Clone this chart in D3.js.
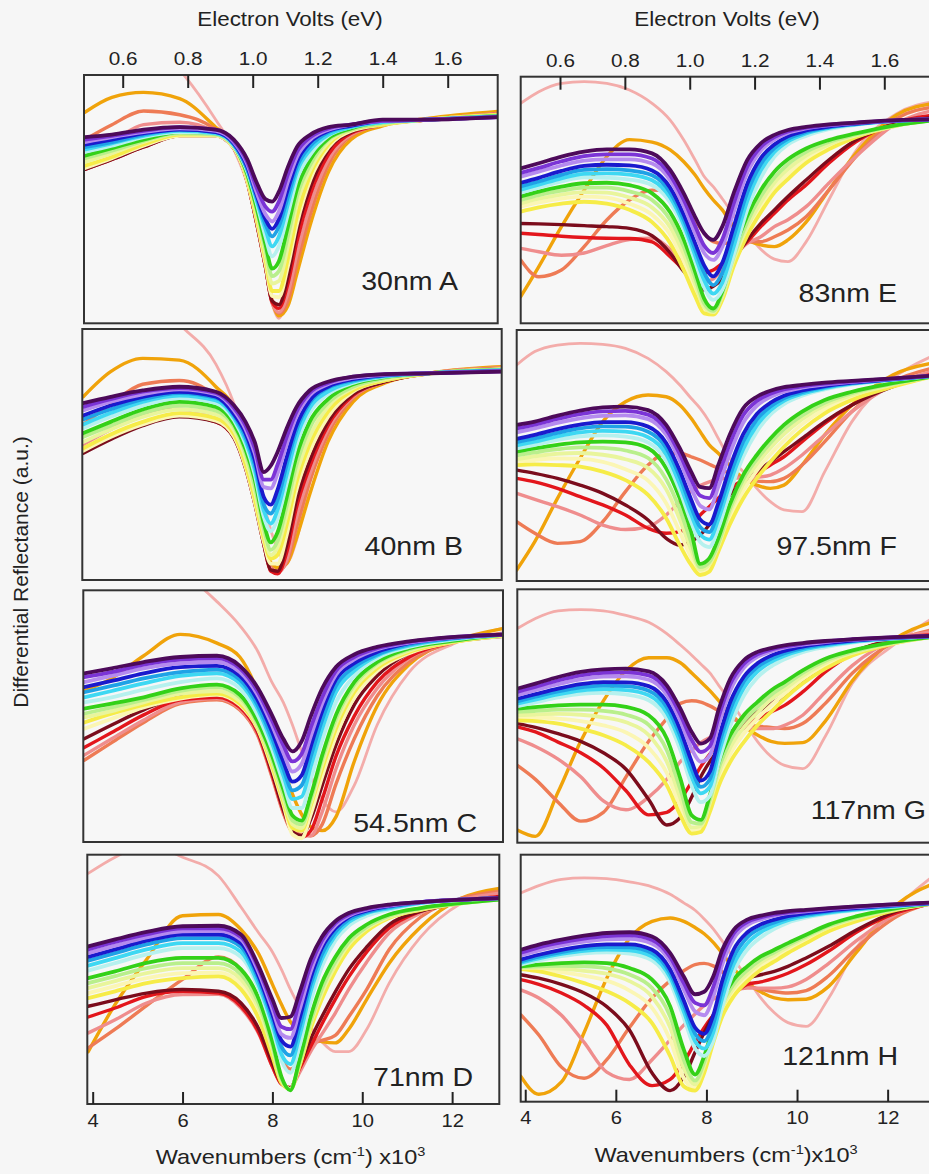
<!DOCTYPE html>
<html>
<head>
<meta charset="utf-8">
<script src="https://cdn.jsdelivr.net/npm/d3@7"></script>
<style>
  body { margin: 0; background: #f6f6f6; }
  svg { display: block; }
  text { font-family: "Liberation Sans", Arial, sans-serif; fill: #222; }
</style>
</head>
<body>
<div id="chart"></div>
<script>
// Series colours, in drawing order (warm curves first, then the bundle from yellow to dark purple)
const seriesColors = ["#f3acaa", "#f0a30a", "#ee7b55", "#ef8d8d", "#e3161c", "#7b0c1c",
  "#fbf6b4", "#f6ec48", "#e9f59c", "#b9ef8c", "#33d118", "#b6f1ee",
  "#3ed8f2", "#1fa2e6", "#1a1acd", "#b58bef", "#7b34d6", "#4d0a5a"];

// Wavenumber grids (x10^3 cm^-1)
const wnA = [3.9, 4.5, 5.2, 6.0, 6.8, 7.2, 7.5, 7.7, 7.9, 8.05, 8.2, 8.4, 8.6, 8.9, 9.3, 9.8, 10.5, 11.5, 13.05];
const wnB = [3.9, 4.5, 5.2, 6.0, 6.8, 7.2, 7.45, 7.65, 7.85, 8.0, 8.15, 8.35, 8.55, 8.85, 9.25, 9.8, 10.5, 11.5, 13.05];
const wnC = [3.9, 4.5, 5.2, 6.0, 6.8, 7.3, 7.7, 8.0, 8.25, 8.45, 8.65, 8.85, 9.1, 9.4, 9.8, 10.3, 11.0, 12.0, 13.05];
const wnD = [3.9, 4.5, 5.2, 6.0, 6.8, 7.3, 7.7, 8.0, 8.2, 8.4, 8.6, 8.85, 9.1, 9.4, 9.7, 10.1, 10.6, 11.3, 12.2, 13.05];
const wnRight = [3.9, 4.3, 4.8, 5.3, 5.8, 6.3, 6.8, 7.2, 7.5, 7.75, 7.95, 8.15, 8.35, 8.6, 8.9, 9.2, 9.5, 9.8, 10.2, 10.7, 11.3, 12.2, 13.05];

// Differential reflectance (a.u.), one row per series colour
const reflA = [
  [130, 125, 115, 102, 82, 70, 56, 40, 22, 8, 2, 12, 26, 46, 63, 74, 80, 82.5, 84.7],
  [85, 91, 93, 90.5, 79, 72, 57, 41, 23, 9, 3, 7, 20, 40, 61, 74, 79.5, 82.5, 85.3],
  [74, 80, 85.5, 84, 78, 71, 57, 41, 23, 9, 4, 9, 24, 44, 64, 75.5, 80, 82, 84.5],
  [66, 73, 80, 81, 77, 71, 57, 41, 23, 8, 4.5, 12, 28, 48, 66, 76, 80, 82, 84.5],
  [62, 66, 71, 75.5, 75.5, 70.5, 57, 41, 23, 8.5, 6, 16, 33, 52, 68, 76.5, 80, 82, 84.2],
  [62, 66, 71, 75.5, 75.5, 70.5, 57, 41, 23, 9, 7.5, 19, 37, 55, 70, 77, 80, 82, 84],
  [62.5, 66.5, 71.5, 75.5, 75.5, 70.5, 57, 42, 24, 11, 10.5, 23, 40, 58, 71, 77.5, 80, 82, 84],
  [63.5, 67, 72, 76, 76, 71, 58, 43, 26, 13, 13, 26, 43, 60, 72, 78, 80, 82, 84],
  [65, 68.5, 73, 76.5, 76, 71, 59, 45, 28, 16, 17, 31, 48, 62, 73, 78, 80.5, 82, 83.6],
  [66.5, 69.5, 73.5, 76.5, 76, 71.5, 59.5, 46, 30, 19, 21, 35, 51, 64, 74, 78, 80.5, 82, 83.5],
  [67.5, 70.5, 74, 77, 76.5, 71.5, 60, 47, 32, 22, 25, 39, 54, 66, 74.5, 78.5, 81, 82, 83.5],
  [69, 71.5, 75, 77, 76.5, 71.5, 61, 49, 35, 27, 31, 44, 58, 68, 75.5, 79, 81, 82, 83.3],
  [70, 72.5, 75.5, 77.5, 76.5, 72, 62, 50, 38, 31, 35, 48, 61, 70, 76, 79, 81, 82, 83.2],
  [71, 73, 76, 78, 77, 72, 62, 51, 40, 35, 39, 51, 63, 71.5, 77, 79.5, 81.5, 82, 83.2],
  [72, 74, 76.5, 78, 77, 72.5, 63, 52, 42, 38, 42, 54, 65, 73, 77.5, 79.5, 81.5, 82, 83],
  [73, 75, 77, 78.5, 77.5, 73, 64, 53, 44, 41, 45, 57, 67, 74, 78, 80, 81.5, 82, 83],
  [74, 75.5, 77.5, 79, 78, 73.5, 65, 55, 47, 45, 49, 60, 69, 75, 78.5, 80, 81.5, 82, 83],
  [75, 76, 78, 79, 78, 74, 66, 57, 50, 49, 53, 63, 71, 76, 79, 80, 82, 82, 83]
];
const reflB = [
  [140, 130, 118, 102, 86, 70, 55, 42, 30, 20, 12, 7, 15, 39, 59, 72, 79, 82.5, 85],
  [73, 83, 88.3, 87.6, 77, 68, 50, 34, 17, 7, 5, 6.5, 16, 34, 55, 71, 78.5, 82.5, 85],
  [62, 70, 78, 79.5, 73, 60, 46, 31.5, 15, 5, 3.5, 7, 20, 39, 58, 72.5, 79, 82.5, 84.5],
  [54, 60, 66, 68, 64, 57, 45, 31, 14.5, 4.5, 3, 8, 24, 42, 60, 73, 79, 82.5, 84.5],
  [51, 56.5, 62, 65.5, 63, 56.5, 44.5, 30.5, 14, 3.5, 2.5, 11, 28, 45, 61.5, 73.5, 79, 82.3, 84.2],
  [50.5, 56, 61.5, 65, 63, 56.5, 44.5, 30.5, 14, 4, 3.5, 14, 31, 47.5, 63, 74, 79, 82.3, 84.1],
  [51.5, 57, 62, 65.5, 63.5, 57, 45, 31, 15, 6.5, 6.5, 18, 35, 51, 65, 75, 79.5, 82.3, 84],
  [52.5, 58, 63, 66.5, 64.5, 58, 46, 32.5, 16.5, 8.5, 10, 22, 38, 54, 67, 75.5, 79.5, 82.3, 84],
  [55, 60, 65, 68, 66, 59.5, 48.5, 35, 18.5, 10, 13, 26, 41.5, 57, 69, 76.5, 80, 82.3, 83.9],
  [57, 61.5, 66.5, 69.5, 67.5, 61, 50.5, 37.5, 20.5, 12, 15.5, 29.5, 45, 60.5, 70.5, 77, 80.4, 82.4, 83.8],
  [58.5, 63, 68, 71, 69, 62, 52, 40, 22.5, 15, 19, 33, 48.5, 63, 72, 78, 80.8, 82.4, 83.7],
  [60.5, 65, 69.5, 72.5, 70.5, 63.5, 54, 42, 25, 19.5, 24.5, 38.5, 53, 66.5, 74, 78.5, 81, 82.4, 83.6],
  [62, 66.5, 71, 73.5, 71.5, 64.5, 55.5, 44, 27.5, 22.5, 28, 42, 56, 68.5, 75, 79, 81.2, 82.4, 83.5],
  [64, 68, 72, 74.5, 72.5, 65.5, 57, 46, 30, 26.5, 32, 46, 59, 70.5, 76.5, 79.5, 81.4, 82.4, 83.4],
  [65.5, 69.5, 73, 75, 73, 66, 58.5, 48, 33, 30, 36, 49, 61, 71.5, 77, 80, 81.6, 82.4, 83.3],
  [67.5, 71, 74, 76, 74, 67.5, 60, 50.5, 37, 36.5, 42.5, 54, 64.5, 73.5, 78, 80.5, 81.8, 82.4, 83.2],
  [69, 72, 75, 76.5, 74.5, 68.5, 61.5, 52.5, 40, 40, 46, 57, 66.5, 74.5, 78.5, 81, 82, 82.4, 83.1],
  [70.5, 73, 75.5, 77, 75, 69.5, 63, 55, 43, 45.5, 51, 60.5, 68.5, 75.5, 79, 81, 82, 82.3, 83]
];
const reflC = [
  [135, 128, 118, 108, 95.5, 86, 75.5, 63.5, 55.5, 46.5, 36, 26.5, 17, 12, 22.5, 46.5, 67.5, 79, 85],
  [60, 65, 74, 82.5, 79, 73.5, 59.5, 44, 30, 19, 11, 6, 4.5, 10, 32, 54, 70.5, 80, 84.8],
  [32.5, 39.5, 47.5, 55, 56.5, 52.5, 42, 26, 11.5, 4, 3, 2.5, 7, 23, 41, 58, 71.5, 79.5, 83],
  [34.5, 41, 48.5, 55.5, 57, 53, 42.5, 26.5, 12, 4, 2.5, 2.5, 12, 29, 46.5, 61, 73, 79.5, 82.5],
  [37.5, 43.5, 50.5, 56.5, 57.5, 53.5, 43, 27, 12.5, 4, 2, 4.5, 17, 34, 50, 63.5, 73.5, 79.5, 82],
  [41, 46.5, 52.5, 57.5, 58.5, 54.5, 44, 28, 13, 4, 2.5, 9, 22.5, 38.5, 54.5, 66, 75, 79.5, 81.7],
  [45, 49, 53.5, 57, 58.5, 54.5, 44.5, 29.5, 15, 3, 1.5, 11, 26, 42, 57.5, 68, 75, 79.5, 81.8],
  [47.5, 51, 54.5, 57.5, 59, 55, 45, 30.5, 16, 5.5, 4.5, 14.5, 29, 45, 59.5, 69, 75.5, 79.5, 82],
  [49.5, 52, 55.5, 59, 60, 56, 45.5, 32, 17.5, 7, 5.5, 15.5, 31, 47, 61, 70, 76, 79.8, 82.2],
  [51, 53.5, 56.5, 60, 61.5, 57.5, 46.5, 33, 19, 8.5, 7, 17, 33, 49, 62.5, 71, 76.5, 80, 82.3],
  [53, 55, 57.5, 61, 62.5, 58.5, 47.5, 34.5, 21, 10.5, 8.5, 18.5, 34.5, 50.5, 63.5, 71.5, 77, 80, 82.4],
  [55.5, 57.5, 60.5, 63.5, 65, 61, 50, 37, 23.5, 13.5, 13.5, 25, 40.5, 55.5, 66, 73, 77.5, 80.5, 82.4],
  [57.5, 60, 63, 66, 67, 63, 52.5, 39.5, 26.5, 17, 18, 30, 45, 59.5, 68, 74, 78, 80.8, 82.4],
  [59.5, 62, 65, 67.5, 68.5, 64.5, 54, 41.5, 29, 20.5, 22.5, 34, 48.5, 62, 69.5, 74.5, 78.5, 81, 82.4],
  [61.5, 64, 67, 69.5, 70, 66, 56, 44, 32, 24, 26.5, 38, 52, 64.5, 71, 75.5, 79, 81.2, 82.4],
  [63.5, 66, 69, 71, 71.5, 67.5, 58, 46.5, 35.5, 28, 31, 42, 55, 66.5, 72.5, 76.5, 79.2, 81.3, 82.4],
  [65.5, 67.5, 70.5, 72.5, 73, 69, 59.5, 48.5, 38.5, 32, 35, 45.5, 57.5, 68, 73.5, 77, 79.5, 81.5, 82.4],
  [67, 69, 71.5, 73.5, 74, 70, 61, 50.5, 41, 36, 40, 50, 61, 69.5, 74.5, 77.5, 79.7, 81.5, 82.4]
];
const reflD = [
  [92.5, 99, 104, 99, 91.5, 79, 68.5, 61, 54, 46, 39, 31, 25, 21, 21, 30, 48.5, 67, 80.5, 86],
  [21, 40, 58, 75.5, 76, 70, 60, 48, 40, 33, 29, 26.5, 25, 24.5, 30, 42, 56.5, 71, 82.5, 86.5],
  [22.5, 30, 39.5, 50, 59, 54, 40.5, 27, 18, 14, 17, 24, 25.5, 27.5, 35, 46, 62, 75, 82.5, 85.3],
  [28.5, 33.8, 40.5, 43.9, 44, 38.5, 28, 15, 8, 6.5, 12.5, 21, 28, 36.5, 46, 57, 68.6, 76.6, 82, 84.6],
  [34.9, 38.5, 43.2, 45.2, 44.5, 39.2, 28.5, 15, 8, 6.5, 14, 23, 32, 42, 51, 61, 70.6, 77.3, 81.3, 83.3],
  [39.2, 41.8, 44.5, 45.9, 45.2, 40.5, 30, 16.5, 8.5, 6.5, 15, 26, 35, 45, 54, 63, 72, 77.3, 80.6, 83],
  [44.5, 47.3, 50.5, 52.5, 52.7, 48, 36, 20.5, 9, 6, 15.5, 31, 43, 54.5, 63, 70, 74.8, 78, 80.5, 82.4],
  [42.5, 45.2, 48.5, 50.5, 51.2, 46, 34, 19, 8.5, 6, 15, 30, 42, 53.2, 62, 69.3, 74.6, 77.9, 80.6, 82.6],
  [46.5, 49.3, 52.5, 54.5, 54.5, 50, 38, 22, 9.5, 6, 16, 32, 44.5, 55.5, 64, 70.5, 75, 78.2, 80.5, 82.2],
  [48.5, 51.3, 54.5, 56.5, 56.5, 52, 40, 23.5, 10, 6, 16.5, 33, 46, 57, 65, 71, 75.5, 78.4, 80.5, 82],
  [50.5, 53.2, 56.6, 58.6, 58.6, 54, 42, 25, 11, 5.5, 17.5, 35, 48.5, 59, 66.5, 72, 76, 78.6, 80.6, 82],
  [53.5, 56.5, 60, 62.5, 62.5, 59, 46, 30, 17.5, 12.5, 23, 41, 55, 65.5, 71.5, 75.5, 78, 80.5, 81.8, 82.5],
  [55.5, 58.5, 62, 64.5, 64.5, 61, 47.5, 32, 20, 16, 27, 45, 58, 67.5, 73, 76.5, 78.5, 80.7, 82, 82.6],
  [57.5, 60.5, 64, 66.5, 66.5, 63, 49.5, 34, 23, 19.5, 30.5, 48, 60, 69, 74, 77, 79, 80.8, 82, 82.6],
  [59, 62, 65.5, 68, 68, 64.5, 51, 36, 25.5, 23, 34, 50.5, 62.5, 70.5, 75, 77.5, 79.4, 81, 82, 82.6],
  [60.5, 63.5, 66.8, 69.3, 69.5, 66, 52.5, 38, 28, 26.5, 37.5, 53, 64, 71.5, 75.5, 78, 79.6, 81, 82, 82.6],
  [62, 65, 68, 70.5, 70.5, 67, 54, 40, 31, 30, 41, 55.5, 65.5, 72.5, 76, 78.3, 79.8, 81, 82, 82.6],
  [63.2, 66, 69, 71.3, 71.5, 68, 55, 42, 34.5, 35, 44.5, 58, 67, 73.3, 76.6, 78.6, 80, 81, 82, 82.6]
];
const reflE = [
  [89.2, 93.9, 97.3, 98, 97.3, 94.6, 89.2, 82.4, 74.3, 66.2, 59.5, 55.4, 50.5, 44, 36.5, 30, 26, 25, 33, 50, 70, 85, 90],
  [10.8, 23, 39.2, 54, 67.6, 74.5, 73.5, 70.3, 65.5, 60.1, 54.7, 50, 46, 39.2, 33.8, 31.8, 31.1, 33.8, 41, 54, 68.9, 84.5, 89.2],
  [25.7, 18.9, 21.6, 31.1, 41.9, 50, 54, 53.4, 48.6, 41.9, 36.5, 33.1, 32.4, 32.8, 33.1, 33.1, 35.1, 37.8, 43.2, 54, 67.6, 83.1, 87.8],
  [30.4, 29, 27.6, 28.5, 31.5, 34, 34.5, 30, 24, 19, 17, 18, 22, 27, 32.4, 35.1, 39.2, 42, 47.3, 56.8, 67.6, 81.1, 86.5],
  [36.5, 36, 35.3, 34.8, 34.5, 34.4, 33, 27, 22, 20, 20.5, 21.6, 24.3, 28.4, 33.1, 39.2, 44.6, 50, 56.1, 64.9, 73.6, 81.4, 84.5],
  [40.5, 40.3, 40, 39.6, 39.2, 38.5, 35.5, 28.5, 21, 16, 13.5, 15, 18, 25.7, 33.8, 40.5, 46, 51.4, 58.1, 66.2, 74.3, 81.1, 83.5],
  [47.3, 49, 50.6, 51.4, 51, 48.5, 44, 36, 25, 13.5, 5, 4, 10, 24, 37, 47, 55, 60.5, 66.5, 71.5, 75.8, 80.2, 82.6],
  [45.3, 47, 48.5, 49.3, 48.5, 46, 41, 32.5, 21.5, 11, 4, 3.5, 9.5, 23, 35.5, 45, 53, 58.5, 65, 70.5, 75.5, 80.2, 82.7],
  [48.6, 50.5, 52.2, 53.2, 53, 51, 47, 39, 28, 16, 6.5, 4.5, 11, 25.5, 39, 49, 57, 62.5, 68, 72.5, 76.2, 80.2, 82.5],
  [50, 52, 53.8, 55, 55, 53.5, 50, 42, 31, 18.5, 8, 5, 12, 27, 41, 51.5, 59, 64.5, 69.5, 73.5, 76.6, 80.3, 82.5],
  [51.4, 53.4, 55.4, 56.8, 57, 56, 52.7, 45, 34, 21, 10, 6, 13, 29, 43.5, 54, 61.5, 66.5, 70.9, 74.3, 77, 80.4, 82.4],
  [53, 55, 57.5, 59.2, 59, 58.3, 56, 49, 38, 25, 14.5, 9.5, 13.5, 27.5, 46, 59, 67.5, 72.5, 76, 78.7, 80.5, 82.1, 82.6],
  [54.2, 56.2, 58.8, 60.6, 60.8, 60.3, 58, 51, 40, 27.5, 17.5, 12, 16.5, 31, 49.5, 62, 69.5, 73.8, 77, 79.2, 80.7, 82.1, 82.7],
  [55.5, 57.5, 60.2, 62.2, 62.5, 62, 60, 53, 42, 30, 20.5, 15.5, 20.5, 35, 53, 64.5, 71, 74.8, 77.6, 79.5, 80.8, 82.2, 82.7],
  [57, 59, 61.8, 63.8, 64.3, 64, 62, 55, 44, 32.5, 23.5, 19, 24.5, 39, 56.5, 67, 72.5, 75.8, 78.2, 79.8, 81, 82.2, 82.7],
  [59.5, 61.5, 64, 66, 66.5, 66.5, 64.8, 58, 47.5, 36.5, 28.5, 25.7, 31, 45, 61, 70, 74.5, 77.2, 79, 80.3, 81.2, 82.3, 82.7],
  [61, 63, 65.7, 67.8, 68.5, 68.5, 66.8, 60, 50, 39.5, 31.5, 28.5, 34, 48.5, 63.5, 71.5, 75.5, 77.8, 79.3, 80.5, 81.3, 82.3, 82.7],
  [62.8, 64.9, 67.6, 69.6, 70.5, 70.5, 68.9, 62.2, 52.7, 43.2, 36.5, 33.8, 39.2, 52.7, 66.2, 73, 76.4, 78.4, 79.7, 80.7, 81.4, 82.4, 82.7]
];
const reflF = [
  [86.1, 91.4, 94, 94.7, 94.3, 92.7, 88.7, 83.4, 78.1, 72.8, 68.8, 63.5, 56.8, 48.9, 43.6, 36.9, 31.6, 28.3, 27.6, 43.6, 63.5, 80.7, 89.4],
  [4.4, 15.7, 32.9, 48.9, 63.5, 71.4, 74.1, 73.4, 70.1, 64.8, 59.5, 54.2, 50.9, 46.2, 40.9, 38.2, 36.9, 38.2, 46.2, 58.2, 70.1, 82.1, 86.7],
  [23.6, 19, 15, 15.7, 23.6, 35.6, 46.2, 50.9, 50.9, 49.5, 48.2, 46.5, 44.9, 42.9, 40.9, 39.8, 39.6, 40.9, 46.2, 55.5, 67.5, 79.4, 84.7],
  [34.9, 32.5, 29.6, 26.3, 22.3, 20.5, 21.6, 26.3, 31.6, 35.6, 38, 39.5, 40.5, 41, 41, 41.3, 42.2, 44.9, 50.2, 58.2, 67.5, 78.1, 83.4],
  [40.9, 39.5, 36.9, 33.6, 30.3, 26.3, 21, 19, 19.7, 22.3, 26.3, 29.6, 33, 36.9, 40.2, 42.9, 46.2, 49.5, 55.5, 62.8, 70.1, 78.1, 82.3],
  [44.2, 42.9, 40.9, 38.2, 34.9, 30.3, 24.3, 17, 14.3, 15.7, 18.3, 22.3, 27.6, 34.3, 39.6, 43.6, 47.5, 51.5, 56.8, 63.5, 70.1, 77.4, 82.1],
  [47.3, 48.2, 48.8, 48.7, 47.5, 44.5, 40, 31, 19.5, 9.5, 3.5, 5.5, 13, 25, 36, 44, 50.5, 56, 62.5, 68.5, 73, 77.8, 81.4],
  [46.2, 46.5, 46.2, 45.6, 43.6, 40.2, 34.3, 25, 14.3, 6.4, 2.4, 3.7, 11.7, 22.3, 32.9, 40.9, 47.5, 53.5, 60.2, 66.8, 72.1, 77.4, 81.4],
  [48.5, 49.7, 50.7, 51, 50.3, 48.5, 45, 36.5, 24.5, 12.5, 4.5, 6.5, 14, 27, 38.5, 46.5, 53, 58.5, 64.5, 70, 74, 78.2, 81.4],
  [50, 51.2, 52.5, 53.2, 53, 52, 49, 40.5, 28.5, 15.5, 5.5, 7.5, 15, 28.5, 40.5, 48.5, 55, 60.5, 66, 71, 74.8, 78.5, 81.4],
  [51.5, 52.8, 54.2, 55.2, 55.5, 55.2, 52.9, 44.9, 32.9, 19.7, 6.8, 9, 17, 30.3, 42.2, 50.2, 56.8, 62.2, 67.5, 72.1, 75.4, 78.8, 81.4],
  [52.8, 54.2, 56.2, 57.6, 58, 57.5, 55.2, 48, 36, 23.5, 15.5, 13.5, 21, 35, 49.5, 59.5, 66.3, 70.5, 73.8, 76.3, 78.3, 80.1, 81.6],
  [54, 55.5, 57.6, 59.2, 59.8, 59.5, 57.3, 50.5, 38.5, 26.5, 18.5, 16.5, 24.5, 38.5, 52.5, 62, 68, 71.8, 74.6, 76.8, 78.6, 80.2, 81.6],
  [55.3, 56.8, 59, 60.8, 61.6, 61.5, 59.5, 53, 41.5, 29.5, 21.5, 19.5, 27.5, 41.5, 55.5, 64.3, 69.5, 72.8, 75.2, 77.2, 78.8, 80.3, 81.7],
  [56.6, 58.2, 60.5, 62.3, 63.3, 63.3, 61.5, 55, 44, 32.5, 24.5, 22.5, 31, 45, 58.5, 66.5, 71, 73.8, 75.9, 77.6, 79, 80.4, 81.7],
  [59.2, 60.8, 63, 64.8, 65.8, 66, 64.5, 58.3, 48, 37, 30, 28.5, 37.5, 50.5, 63, 69.8, 73.3, 75.4, 77, 78.2, 79.3, 80.5, 81.8],
  [60.8, 62.3, 64.6, 66.5, 67.6, 67.8, 66.3, 60.3, 50.5, 40.5, 34, 33, 42, 54.5, 66, 71.7, 74.6, 76.3, 77.5, 78.6, 79.5, 80.6, 81.8],
  [62.2, 63.5, 65.9, 67.9, 69.2, 69.5, 68.1, 62.2, 52.9, 43.6, 37.5, 37, 46.2, 58.2, 68.8, 73.4, 75.8, 77.2, 78.1, 79, 79.7, 80.7, 81.8]
];
const reflG = [
  [84.5, 88.5, 91.5, 92, 91.5, 89.7, 87, 82.5, 78, 74, 70.5, 67, 62, 56, 48, 40, 34, 30.5, 29.2, 42, 63, 78, 88.4],
  [5, 2.5, 20, 40, 56, 68, 73, 73, 71, 67, 63.5, 60, 56, 51, 46, 42.5, 40, 39.2, 39.5, 48, 64, 80, 87],
  [30.5, 25, 16, 8.5, 12, 26, 40, 49, 55, 56, 55.5, 54, 52, 49.5, 47, 46, 45.5, 45, 47, 55, 67, 79, 84],
  [41, 38, 33, 26, 16.5, 13, 18, 25, 32, 36.5, 39.5, 41.5, 43, 44, 45, 45, 45, 46.3, 50.3, 59.5, 70, 79.9, 83.2],
  [45.7, 43.7, 39.7, 35.5, 29.5, 20.5, 11, 12, 17, 24, 30, 35, 39, 43, 46.3, 48.9, 51.6, 54.2, 59.5, 67.4, 74.6, 80.3, 82.1],
  [47, 45.5, 43, 40, 35.5, 29, 17, 7, 10, 18, 26, 32, 37, 42, 47.6, 51.6, 54.9, 58.2, 63.4, 70, 75.3, 79.9, 81.8],
  [49.3, 49.4, 49, 48, 46.3, 43.5, 37.5, 27.5, 14, 4.5, 5.5, 14, 25, 35, 43, 49, 54.2, 58.7, 64.5, 70, 74.4, 78.7, 81.2],
  [48.3, 48, 47, 45, 42.4, 38.4, 31.8, 22.6, 10.8, 3.6, 4.2, 12.1, 22.6, 31.8, 39.7, 46.3, 51.6, 56.8, 62.8, 68.7, 73.9, 78.6, 81.2],
  [50.3, 50.6, 50.8, 50.5, 49.5, 47.5, 42.5, 32, 17.5, 6, 6.5, 15.5, 27.5, 37.5, 45.5, 51.3, 56.5, 60.5, 65.8, 71, 74.9, 78.8, 81.2],
  [51.6, 52, 52.5, 52.5, 52, 50.5, 46.5, 36.5, 21, 8, 7.5, 17, 29.5, 40, 48, 53.5, 58.3, 62, 67, 71.8, 75.4, 79, 81.2],
  [52.9, 53.5, 54.2, 54.5, 54.5, 53.6, 50.3, 41.1, 25.3, 10.8, 9, 18.7, 31.8, 42.4, 50.3, 55.5, 60.1, 63.4, 68, 72.6, 75.9, 79.2, 81.2],
  [53.9, 55.4, 57.3, 58.7, 59.1, 58.5, 56.2, 49, 36.5, 22.5, 16, 18.5, 32, 46, 58, 65.2, 69.5, 72.4, 75.2, 77.2, 79, 80.5, 81.4],
  [54.9, 56.5, 58.5, 60, 60.6, 60.2, 58.2, 51.3, 39.5, 26, 19.5, 22, 35.5, 49.5, 61, 67.5, 71.3, 73.8, 76.1, 77.8, 79.3, 80.6, 81.4],
  [55.8, 57.6, 59.7, 61.3, 62, 61.8, 60, 53.5, 42, 29, 22, 25, 38.5, 52.5, 63.5, 69.3, 72.6, 74.8, 76.8, 78.3, 79.6, 80.7, 81.5],
  [56.8, 58.6, 60.8, 62.6, 63.4, 63.3, 61.8, 55.5, 44.5, 32, 24.5, 28, 41.5, 55.5, 65.5, 70.8, 73.8, 75.7, 77.4, 78.7, 79.8, 80.8, 81.5],
  [58.2, 60.2, 62.6, 64.5, 65.5, 65.6, 64.3, 58.3, 48, 37, 32, 34.5, 47, 60, 69, 73.3, 75.5, 77, 78.2, 79.2, 80.1, 80.9, 81.6],
  [59.5, 61.5, 64, 66, 67, 67.2, 66, 60.2, 50.5, 40.5, 35.8, 38, 50, 62.5, 70.5, 74.3, 76.2, 77.4, 78.5, 79.4, 80.2, 81, 81.6],
  [60.8, 62.8, 65.4, 67.4, 68.4, 68.7, 67.6, 62.1, 52.9, 43.7, 39.1, 41.1, 52.9, 64.7, 72, 75.3, 76.8, 77.9, 78.8, 79.6, 80.3, 81.1, 81.6]
];
const reflH = [
  [84.5, 87.5, 90, 90.6, 90.3, 89, 87, 84, 80.5, 77.5, 74, 70, 65, 58, 50, 42, 36, 32, 30.5, 42, 62, 79, 92],
  [10.3, 3, 8, 28, 50, 66, 73, 74.4, 73, 70.5, 68, 64.5, 60, 54, 48, 44.5, 42, 41.3, 41.5, 46.7, 60.2, 79.8, 88.5],
  [35.2, 27, 14, 9.5, 17, 30, 42, 49, 53, 55.5, 56, 55, 52.5, 49.5, 47, 45.5, 44.5, 44, 45, 51, 62, 75, 81],
  [45.3, 42, 35, 24, 12, 9, 17, 25, 31, 35.5, 39, 41.5, 43.5, 45, 46, 46, 46, 46.5, 49.5, 56, 65, 76, 81],
  [49.4, 47.5, 44, 39, 31, 15, 6.5, 9, 16, 24, 30, 35, 39, 43.5, 47.5, 48.5, 50, 52, 55.5, 61, 68.5, 76.5, 80.5],
  [51.4, 50, 47.5, 44, 38.5, 29, 11.6, 4.5, 10, 20, 28, 35, 41, 47, 50, 51.4, 52.8, 54.8, 58.2, 62.9, 69.4, 77.1, 80.7],
  [54, 53.6, 52.5, 51, 49, 45, 38, 25, 9.5, 5.5, 13, 25.5, 36.5, 44.5, 50.5, 55, 58.5, 61.8, 65.5, 70, 73.8, 78, 80.4],
  [53.7, 52.8, 50.7, 48, 44.7, 39.9, 31.8, 18.4, 6.2, 4.5, 11.6, 23.8, 34.5, 42.6, 48.7, 53.4, 56.8, 60.2, 64.2, 69, 73, 77.7, 80.4],
  [54.2, 54.2, 53.8, 53, 51.8, 48.8, 42.5, 30, 13.5, 7, 14.5, 27, 38, 46, 51.8, 56.3, 59.5, 62.6, 66.3, 70.6, 74.2, 78, 80.4],
  [54.5, 54.8, 55, 54.8, 54, 51.5, 46, 34.5, 17, 8.5, 16, 28.5, 39.5, 47.5, 53.2, 57.5, 60.5, 63.4, 67, 71.2, 74.6, 78.2, 80.4],
  [54.8, 55.5, 56.1, 56.4, 56.1, 54.1, 49.4, 38.6, 21.1, 11, 18.4, 30.5, 41.3, 49.4, 54.8, 58.8, 61.5, 64.2, 67.6, 71.7, 75, 78.4, 80.4],
  [55.5, 57.2, 58.9, 60.1, 60.5, 60, 57.2, 48.3, 34, 21.5, 18.5, 24.5, 38.5, 52.5, 61.5, 66.5, 70, 72.5, 74.5, 76.2, 77.6, 79, 80.4],
  [56.2, 58, 59.8, 61.1, 61.6, 61.3, 58.8, 50.3, 36.5, 24.5, 21.5, 28, 42, 55.5, 64, 68.6, 71.4, 73.5, 75.1, 76.6, 77.8, 79.2, 80.5],
  [56.8, 58.7, 60.6, 62, 62.6, 62.5, 60.2, 52, 39, 27.5, 24.5, 31.5, 45.5, 58.5, 66.5, 70.3, 72.6, 74.3, 75.7, 77, 78.1, 79.4, 80.5],
  [57.5, 59.5, 61.5, 63, 63.7, 63.7, 61.5, 53.5, 41, 30, 27.5, 35, 49, 61.5, 68.5, 71.8, 73.7, 75.1, 76.3, 77.4, 78.4, 79.6, 80.5],
  [59.2, 61.3, 63.3, 64.8, 65.7, 65.9, 64, 56.8, 45.5, 36.5, 35, 42.5, 55.5, 66, 71.5, 73.8, 75.2, 76.3, 77.1, 78, 78.8, 79.8, 80.6],
  [60.3, 62.5, 64.5, 66, 67, 67.3, 65.5, 58.5, 48, 40, 39, 46.5, 58.5, 68, 72.7, 74.6, 75.8, 76.7, 77.4, 78.2, 79, 79.9, 80.6],
  [61.5, 63.6, 65.6, 67.2, 68.3, 68.6, 66.9, 60.2, 50.7, 43.5, 44.5, 50.7, 61.5, 69.6, 73.7, 75.3, 76.4, 77.1, 77.7, 78.4, 79.1, 80, 80.7]
];

const panelLabels = ["30nm A", "40nm B", "54.5nm C", "71nm D", "83nm E", "97.5nm F", "117nm G", "121nm H"];
const wnTicks = [4, 6, 8, 10, 12];
const evTicks = [0.6, 0.8, 1.0, 1.2, 1.4, 1.6];

// ---- layout ----
const W = 929, H = 1174;
const textStretch = "scale(1.12,1)";

const panels = [
  {name: panelLabels[0], wn: wnA, refl: reflA, x: 84,    y: 75,    w: 413.7, h: 248.3, col: 0, lx: 458, ly: 290},
  {name: panelLabels[1], wn: wnB, refl: reflB, x: 82.3,  y: 329,   w: 419.4, h: 251,   col: 0, lx: 463, ly: 555},
  {name: panelLabels[2], wn: wnC, refl: reflC, x: 83.3,  y: 590.3, w: 419.7, h: 251.7, col: 0, lx: 477, ly: 832},
  {name: panelLabels[3], wn: wnD, refl: reflD, x: 87.3,  y: 854.7, w: 412,   h: 249.3, col: 0, lx: 473, ly: 1086},
  {name: panelLabels[4], wn: wnRight, refl: reflE, x: 520.7, y: 76.7,  w: 414.5, h: 246.6, col: 1, lx: 897, ly: 302},
  {name: panelLabels[5], wn: wnRight, refl: reflF, x: 516.7, y: 330,   w: 414.5, h: 251,   col: 1, lx: 897, ly: 555},
  {name: panelLabels[6], wn: wnRight, refl: reflG, x: 517.3, y: 589.3, w: 414.5, h: 253.4, col: 1, lx: 926, ly: 819},
  {name: panelLabels[7], wn: wnRight, refl: reflH, x: 520.7, y: 854.7, w: 414.5, h: 247,   col: 1, lx: 898, ly: 1065}
];

const svg = d3.select("#chart").append("svg")
  .attr("width", W)
  .attr("height", H);

svg.append("rect")
  .attr("width", W)
  .attr("height", H)
  .attr("fill", "#f6f6f6");

const defs = svg.append("defs");

panels.forEach(function(p, k) {
  const xDomain = p.col === 0 ? [3.88, 13.05] : [3.9, 13.05];
  const x = d3.scaleLinear().domain(xDomain).range([p.x, p.x + p.w]);
  const y = d3.scaleLinear().domain([0, 100]).range([p.y + p.h, p.y]);
  p.xScale = x;

  defs.append("clipPath")
    .attr("id", "clip" + k)
    .append("rect")
    .attr("x", p.x).attr("y", p.y)
    .attr("width", p.w).attr("height", p.h);

  const g = svg.append("g");

  // panel background
  g.append("rect")
    .attr("x", p.x).attr("y", p.y)
    .attr("width", p.w).attr("height", p.h)
    .attr("fill", "#f7f7f7");

  const line = d3.line()
    .x(function(d, i) { return x(p.wn[i]); })
    .y(function(d) { return y(d); })
    .curve(d3.curveMonotoneX);

  // curves: pink thin, warm medium, bundle thick
  g.append("g")
    .attr("clip-path", "url(#clip" + k + ")")
    .selectAll("path")
    .data(p.refl)
    .enter()
    .append("path")
    .attr("d", line)
    .attr("fill", "none")
    .attr("stroke", function(d, i) { return seriesColors[i]; })
    .attr("stroke-width", function(d, i) { return i === 0 ? 2.8 : (i < 6 ? 3.4 : 3.8); })
    .attr("stroke-linejoin", "round")
    .attr("stroke-linecap", "round");

  // border
  g.append("rect")
    .attr("x", p.x).attr("y", p.y)
    .attr("width", p.w).attr("height", p.h)
    .attr("fill", "none")
    .attr("stroke", "#333")
    .attr("stroke-width", 2);

  // sample label
  g.append("text")
    .attr("transform", "translate(" + p.lx + "," + p.ly + ") " + textStretch)
    .attr("text-anchor", "end")
    .attr("font-size", 25.5)
    .text(p.name);
});

// ---- top eV axes (panels A and E) ----
[{p: panels[0], r: [122.7, 447.7], cx: 290}, {p: panels[4], r: [560, 884.3], cx: 727}].forEach(function(a) {
  const ev = d3.scaleLinear().domain([0.6, 1.6]).range(a.r);
  const ax = svg.append("g")
    .attr("transform", "translate(0," + a.p.y + ")")
    .call(d3.axisTop(ev).tickValues(evTicks).tickFormat(d3.format(".1f"))
      .tickSizeInner(-13).tickSizeOuter(0).tickPadding(10));
  ax.select(".domain").remove();
  ax.selectAll(".tick line").attr("stroke", "#222").attr("stroke-width", 2);
  ax.selectAll(".tick text")
    .attr("font-size", 18.5)
    .attr("font-family", "Liberation Sans, Arial, sans-serif")
    .attr("fill", "#222")
    .attr("transform", textStretch);

  svg.append("text")
    .attr("transform", "translate(" + a.cx + ",26) " + textStretch)
    .attr("text-anchor", "middle")
    .attr("font-size", 20)
    .text("Electron Volts (eV)");
});

// ---- bottom wavenumber axes (panels D and H) ----
[{p: panels[3], cx: 290.5, y: 1164, gap: " "}, {p: panels[7], cx: 726, y: 1162, gap: ""}].forEach(function(a) {
  const ax = svg.append("g")
    .attr("transform", "translate(0," + (a.p.y + a.p.h) + ")")
    .call(d3.axisBottom(a.p.xScale).tickValues(wnTicks).tickFormat(d3.format("d"))
      .tickSizeInner(-12).tickSizeOuter(0).tickPadding(10));
  ax.select(".domain").remove();
  ax.selectAll(".tick line").attr("stroke", "#222").attr("stroke-width", 2);
  ax.selectAll(".tick text")
    .attr("font-size", 18)
    .attr("font-family", "Liberation Sans, Arial, sans-serif")
    .attr("fill", "#222")
    .attr("transform", textStretch);

  const t = svg.append("text")
    .attr("transform", "translate(" + a.cx + "," + a.y + ") " + textStretch)
    .attr("text-anchor", "middle")
    .attr("font-size", 21);
  t.append("tspan").text("Wavenumbers (cm");
  t.append("tspan").attr("dy", -8).attr("font-size", 13).text("-1");
  t.append("tspan").attr("dy", 8).text(")" + a.gap + "x10");
  t.append("tspan").attr("dy", -8).attr("font-size", 13).text("3");
});

// ---- y axis title ----
svg.append("text")
  .attr("transform", "translate(28,572) rotate(-90)")
  .attr("text-anchor", "middle")
  .attr("font-size", 21)
  .text("Differential Reflectance (a.u.)");
</script>
</body>
</html>
